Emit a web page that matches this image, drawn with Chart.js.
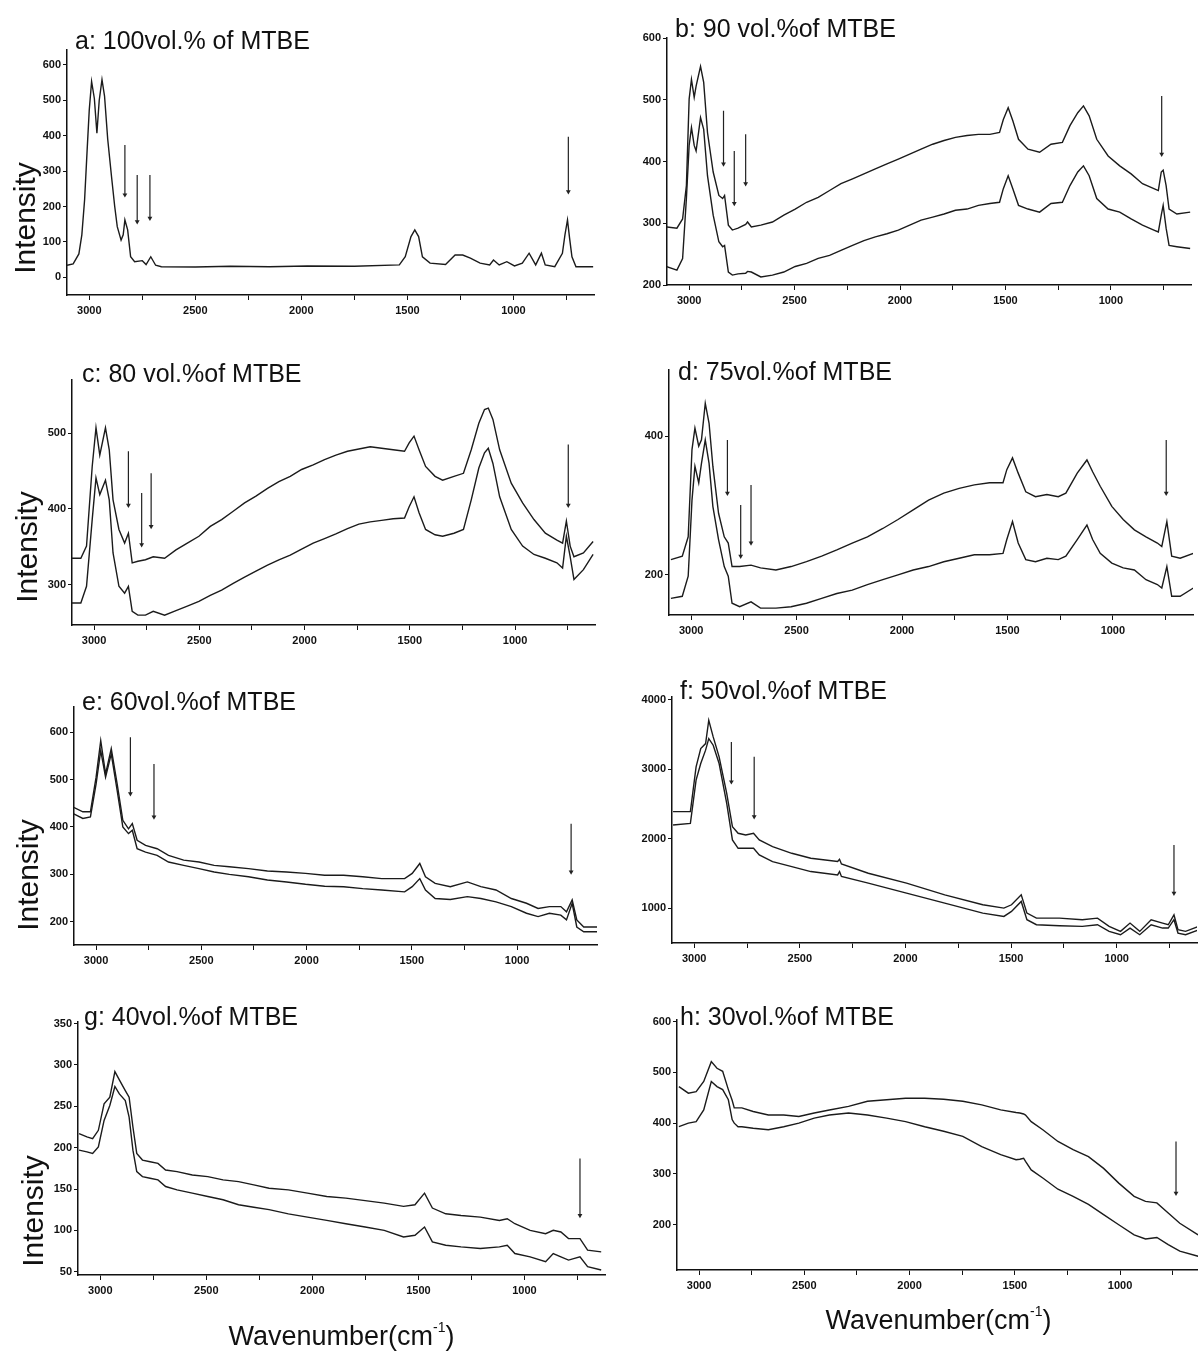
<!DOCTYPE html>
<html>
<head>
<meta charset="utf-8">
<title>Raman spectra of MTBE mixtures</title>
<script src="https://cdn.jsdelivr.net/npm/chart.js@4.4.1/dist/chart.umd.min.js"></script>
<style>
  html, body { margin: 0; padding: 0; background: #fff; }
  #fig { position: relative; width: 1198px; height: 1354px; overflow: hidden; background: #fff; }
  #fig canvas { position: absolute; }
</style>
</head>
<body>
<div id="fig"></div>
<script>
// ---- data ----
const xTicks = [3000, 2750, 2500, 2250, 2000, 1750, 1500, 1250, 1000, 750];
const xTickLabels = ['3000', '', '2500', '', '2000', '', '1500', '', '1000', ''];
const xRange = [620, 3105];

const panelTitles = [
  'a: 100vol.% of MTBE', 'b: 90 vol.%of MTBE', 'c: 80 vol.%of MTBE', 'd: 75vol.%of MTBE',
  'e: 60vol.%of MTBE', 'f: 50vol.%of MTBE', 'g: 40vol.%of MTBE', 'h: 30vol.%of MTBE'
];

// a: 100 vol.%
const aWn = [3105, 3076, 3049, 3035, 3022, 3010, 3000, 2989, 2976, 2964, 2953, 2940, 2928, 2913, 2895, 2880, 2868, 2850, 2840, 2832, 2819, 2805, 2786, 2750, 2732, 2710, 2687, 2660, 2500, 2334, 2150, 1972, 1750, 1538, 1510, 1483, 1465, 1447, 1429, 1393, 1320, 1275, 1239, 1203, 1157, 1112, 1094, 1067, 1031, 995, 958, 926, 895, 868, 850, 805, 769, 757, 745, 735, 724, 705, 624];
const aInt = [34, 38, 66, 120, 219, 360, 473, 553, 505, 407, 500, 558, 512, 390, 284, 200, 143, 105, 120, 162, 134, 58, 44, 47, 36, 58, 34, 30, 29, 31, 30, 32, 31, 35, 58, 115, 134, 115, 58, 40, 36, 63, 63, 54, 40, 35, 49, 35, 44, 32, 40, 68, 35, 68, 35, 30, 68, 120, 162, 110, 58, 30, 30];
const aYTicks = [0, 100, 200, 300, 400, 500, 600];
const aYRange = [-50, 642];
const aArrows = [[2832, 374, 233], [2774, 289, 157], [2714, 289, 167], [741, 397, 242]];

// b: 90 vol.%
const bWn = [3109, 3058, 3031, 3013, 3000, 2989, 2976, 2967, 2946, 2931, 2913, 2886, 2859, 2841, 2832, 2814, 2795, 2768, 2732, 2723, 2705, 2660, 2605, 2551, 2497, 2443, 2388, 2334, 2280, 2225, 2171, 2117, 2062, 2008, 1954, 1900, 1845, 1791, 1737, 1682, 1628, 1574, 1528, 1510, 1487, 1465, 1438, 1393, 1338, 1284, 1230, 1194, 1157, 1130, 1103, 1067, 1013, 958, 904, 850, 796, 775, 761, 752, 738, 724, 687, 624];
const bUpper = [294, 292, 307, 361, 501, 533, 504, 522, 554, 528, 447, 383, 345, 340, 345, 297, 289, 292, 298, 302, 294, 297, 302, 313, 323, 334, 342, 353, 364, 372, 380, 388, 396, 404, 412, 420, 428, 434, 439, 442, 444, 444, 447, 468, 487, 466, 436, 420, 415, 428, 431, 458, 479, 490, 474, 436, 409, 393, 380, 364, 356, 353, 383, 386, 361, 323, 315, 318];
const bLower = [230, 224, 243, 340, 426, 455, 426, 417, 471, 452, 377, 313, 270, 262, 264, 221, 216, 218, 219, 222, 221, 213, 216, 221, 230, 235, 243, 248, 256, 264, 272, 278, 283, 289, 297, 305, 310, 315, 321, 323, 329, 332, 334, 356, 377, 356, 329, 323, 318, 332, 334, 361, 383, 393, 377, 340, 323, 318, 307, 297, 289, 286, 313, 329, 292, 264, 262, 259];
const bYTicks = [200, 300, 400, 500, 600];
const bYRange = [200, 600];
const bArrows = [[2837, 482, 396], [2786, 417, 332], [2732, 444, 364], [759, 506, 412]];

// c: 80 vol.%
const cWn = [3109, 3063, 3036, 3009, 2991, 2973, 2946, 2928, 2910, 2882, 2855, 2837, 2819, 2792, 2756, 2719, 2665, 2611, 2557, 2502, 2448, 2394, 2339, 2285, 2231, 2176, 2122, 2068, 2014, 1959, 1905, 1851, 1796, 1742, 1688, 1634, 1579, 1525, 1503, 1480, 1456, 1425, 1380, 1344, 1290, 1245, 1208, 1172, 1145, 1127, 1105, 1073, 1018, 964, 910, 856, 801, 774, 756, 738, 720, 675, 629];
const cUpper = [335, 335, 351, 456, 507, 471, 507, 478, 412, 373, 355, 368, 329, 331, 333, 337, 335, 346, 355, 364, 377, 386, 397, 408, 417, 427, 436, 443, 452, 458, 465, 471, 476, 479, 482, 480, 478, 476, 487, 496, 478, 456, 443, 438, 443, 447, 478, 513, 531, 533, 518, 478, 434, 408, 386, 368, 359, 355, 384, 351, 337, 342, 357];
const cLower = [276, 276, 298, 386, 441, 419, 438, 412, 342, 298, 289, 298, 265, 260, 260, 265, 260, 266, 272, 278, 286, 293, 302, 310, 318, 326, 333, 339, 347, 355, 361, 367, 374, 380, 383, 385, 387, 388, 403, 416, 395, 373, 366, 364, 368, 373, 412, 454, 474, 480, 460, 416, 373, 351, 340, 335, 329, 322, 364, 337, 307, 320, 340];
const cYTicks = [300, 400, 500];
const cYRange = [247, 570];
const cArrows = [[2837, 476, 405], [2774, 421, 353], [2729, 447, 377], [747, 485, 405]];

// d: 75 vol.%
const dWn = [3096, 3042, 3014, 2996, 2982, 2964, 2951, 2933, 2915, 2897, 2870, 2843, 2824, 2806, 2770, 2716, 2671, 2598, 2526, 2453, 2381, 2309, 2236, 2164, 2091, 2019, 1947, 1874, 1802, 1729, 1657, 1585, 1521, 1503, 1476, 1449, 1413, 1367, 1313, 1259, 1223, 1169, 1123, 1096, 1060, 1005, 951, 898, 843, 789, 768, 744, 721, 681, 618];
const dUpper = [222, 227, 255, 381, 412, 386, 395, 448, 419, 357, 289, 255, 246, 212, 212, 214, 210, 207, 212, 219, 227, 236, 246, 255, 267, 280, 294, 308, 318, 325, 330, 333, 333, 352, 369, 347, 320, 313, 316, 313, 318, 347, 366, 349, 328, 299, 280, 265, 255, 246, 241, 277, 227, 224, 231];
const dLower = [166, 169, 198, 308, 357, 333, 361, 395, 361, 299, 251, 212, 198, 159, 154, 161, 152, 152, 154, 159, 166, 173, 178, 186, 193, 200, 207, 212, 219, 224, 229, 229, 231, 251, 277, 246, 222, 219, 224, 222, 227, 251, 272, 251, 231, 217, 210, 207, 193, 186, 181, 212, 169, 169, 181];
const dYTicks = [200, 400];
const dYRange = [142, 496];
const dArrows = [[2828, 395, 318], [2765, 301, 227], [2716, 330, 246], [747, 395, 318]];

// e: 60 vol.%
const eWn = [3109, 3063, 3027, 3000, 2978, 2955, 2928, 2900, 2873, 2846, 2828, 2805, 2765, 2710, 2656, 2584, 2511, 2439, 2367, 2276, 2186, 2095, 2005, 1914, 1824, 1733, 1643, 1534, 1498, 1462, 1435, 1389, 1317, 1236, 1172, 1100, 1027, 955, 900, 846, 792, 765, 738, 716, 683, 620];
const eUpper = [442, 432, 432, 505, 582, 512, 565, 491, 414, 396, 407, 372, 361, 354, 340, 330, 326, 319, 316, 312, 307, 305, 302, 298, 298, 295, 291, 291, 302, 323, 295, 281, 274, 284, 274, 267, 249, 239, 228, 232, 232, 221, 246, 204, 189, 189];
const eLower = [428, 418, 421, 491, 561, 505, 554, 477, 400, 386, 393, 354, 347, 340, 326, 319, 312, 305, 300, 295, 288, 284, 279, 275, 274, 270, 267, 263, 274, 291, 267, 249, 247, 253, 249, 242, 232, 218, 211, 218, 214, 204, 239, 189, 179, 179];
const eYTicks = [200, 300, 400, 500, 600];
const eYRange = [151, 653];
const eArrows = [[2837, 589, 470], [2725, 533, 421], [743, 407, 305]];

// f: 50 vol.%
const fWn = [3100, 3018, 2991, 2969, 2946, 2931, 2910, 2882, 2846, 2819, 2792, 2756, 2719, 2692, 2629, 2538, 2448, 2321, 2312, 2303, 2176, 1995, 1814, 1634, 1534, 1498, 1452, 1425, 1380, 1271, 1163, 1091, 1036, 982, 937, 891, 837, 783, 756, 729, 710, 674, 611];
const fUpper = [2388, 2388, 3033, 3297, 3368, 3703, 3464, 3177, 2651, 2172, 2077, 2053, 2077, 1981, 1885, 1789, 1718, 1670, 1703, 1636, 1502, 1359, 1191, 1048, 1000, 1048, 1191, 928, 856, 856, 833, 856, 737, 665, 785, 665, 833, 785, 761, 904, 689, 665, 737];
const fLower = [2196, 2220, 2842, 3081, 3273, 3440, 3344, 3081, 2507, 1981, 1861, 1861, 1861, 1766, 1670, 1598, 1526, 1478, 1526, 1455, 1359, 1215, 1072, 928, 880, 952, 1096, 833, 761, 746, 737, 761, 665, 617, 713, 617, 761, 713, 713, 833, 641, 617, 689];
const fYTicks = [1000, 2000, 3000, 4000];
const fYRange = [498, 4038];
const fArrows = [[2824, 3392, 2818], [2716, 3177, 2316], [729, 1909, 1215]];

// g: 40 vol.%
const gWn = [3100, 3063, 3036, 3009, 2982, 2955, 2931, 2910, 2882, 2864, 2846, 2828, 2801, 2765, 2728, 2692, 2638, 2566, 2493, 2421, 2348, 2276, 2204, 2113, 2023, 1932, 1842, 1751, 1661, 1570, 1516, 1471, 1434, 1371, 1299, 1208, 1118, 1081, 1045, 973, 900, 864, 828, 792, 738, 702, 638];
const gUpper = [217, 213, 211, 221, 253, 261, 292, 282, 269, 261, 225, 193, 185, 183, 181, 173, 171, 167, 165, 161, 159, 155, 151, 149, 145, 141, 139, 136, 133, 129, 131, 145, 127, 120, 118, 116, 112, 114, 108, 100, 96, 100, 98, 90, 90, 76, 74];
const gLower = [197, 195, 193, 201, 233, 251, 274, 265, 257, 237, 197, 171, 165, 163, 161, 153, 149, 145, 141, 137, 131, 128, 125, 120, 116, 112, 108, 104, 100, 92, 94, 104, 86, 82, 80, 78, 80, 82, 72, 68, 62, 72, 68, 64, 68, 56, 52];
const gYTicks = [50, 100, 150, 200, 250, 300, 350];
const gYRange = [46, 352];
const gArrows = [[738, 187, 118]];

// h: 30 vol.%
const hWn = [3096, 3051, 3014, 2978, 2942, 2915, 2888, 2861, 2843, 2833, 2815, 2797, 2743, 2671, 2598, 2526, 2453, 2381, 2290, 2200, 2109, 2019, 1928, 1838, 1747, 1657, 1567, 1494, 1476, 1458, 1449, 1422, 1367, 1295, 1223, 1150, 1078, 1006, 933, 879, 825, 771, 716, 629];
const hUpper = [472, 459, 462, 482, 521, 508, 502, 466, 445, 430, 430, 430, 423, 416, 416, 413, 420, 426, 433, 443, 446, 449, 449, 447, 443, 436, 426, 421, 420, 418, 416, 403, 387, 364, 348, 334, 311, 282, 256, 246, 243, 223, 203, 180];
const hLower = [393, 400, 403, 426, 482, 472, 466, 446, 407, 400, 393, 393, 390, 387, 393, 400, 410, 416, 420, 416, 410, 403, 393, 384, 374, 354, 338, 328, 329, 331, 325, 308, 292, 270, 256, 240, 220, 200, 180, 172, 175, 161, 148, 138];
const hYTicks = [200, 300, 400, 500, 600];
const hYRange = [111, 603];
const hArrows = [[734, 364, 262]];

// ---- layout (page pixels of each plot box: left, top, right, bottom) ----
const boxes = [
  [67, 50, 594, 295], [667, 38, 1191, 285],
  [72, 380, 595, 625], [669, 370, 1193, 615],
  [74, 707, 597, 945], [672, 697, 1197, 943],
  [78, 1022, 605, 1275], [677, 1020, 1200, 1270]
];
const titleOffsets = [[8, -8], [8, -8], [10, -5], [9, 3], [8, -4], [8, -5], [6, -4], [3, -2]];
const intensityOffsets = [[-40, -77], null, [-43, -78], null, [-44, -70], null, [-43, -64], null];
const waveOffsets = [null, null, null, null, null, null, 63, 52];

const FONT = '"Liberation Sans", Arial, sans-serif';
const tickFont = { family: '"Liberation Sans Narrow", "Liberation Sans", Arial, sans-serif', size: 11, weight: 'bold' };

// titles, "Intensity" and "Wavenumber(cm-1)" drawn on the canvas
const panelText = {
  id: 'panelText',
  afterDraw(chart, args, o) {
    const ctx = chart.ctx, a = chart.chartArea;
    ctx.save();
    ctx.fillStyle = '#111';
    ctx.textBaseline = 'middle';
    ctx.textAlign = 'left';
    ctx.font = '25px ' + FONT;
    ctx.fillText(o.title, a.left + o.tOff[0], a.top + o.tOff[1]);

    if (o.iOff) {
      ctx.save();
      ctx.translate(a.left + o.iOff[0], a.bottom + o.iOff[1]);
      ctx.rotate(-Math.PI / 2);
      ctx.textAlign = 'center';
      ctx.font = '30px ' + FONT;
      ctx.fillText('Intensity', 0, 0);
      ctx.restore();
    }

    if (o.wOff) {
      const main = 'Wavenumber(cm', sup = '-1', tail = ')';
      ctx.font = '27px ' + FONT;
      const wm = ctx.measureText(main).width, wt = ctx.measureText(tail).width;
      ctx.font = '14px ' + FONT;
      const ws = ctx.measureText(sup).width;
      let x = (a.left + a.right) / 2 - (wm + ws + wt) / 2;
      const y = a.bottom + o.wOff;
      ctx.font = '27px ' + FONT;
      ctx.fillText(main, x, y); x += wm;
      ctx.font = '14px ' + FONT;
      ctx.fillText(sup, x, y - 10); x += ws;
      ctx.font = '27px ' + FONT;
      ctx.fillText(tail, x, y);
    }
    ctx.restore();
  }
};

const panels = [
  { wn: aWn, series: [aInt], yTicks: aYTicks, yRange: aYRange, arrows: aArrows },
  { wn: bWn, series: [bUpper, bLower], yTicks: bYTicks, yRange: bYRange, arrows: bArrows },
  { wn: cWn, series: [cUpper, cLower], yTicks: cYTicks, yRange: cYRange, arrows: cArrows },
  { wn: dWn, series: [dUpper, dLower], yTicks: dYTicks, yRange: dYRange, arrows: dArrows },
  { wn: eWn, series: [eUpper, eLower], yTicks: eYTicks, yRange: eYRange, arrows: eArrows },
  { wn: fWn, series: [fUpper, fLower], yTicks: fYTicks, yRange: fYRange, arrows: fArrows },
  { wn: gWn, series: [gUpper, gLower], yTicks: gYTicks, yRange: gYRange, arrows: gArrows },
  { wn: hWn, series: [hUpper, hLower], yTicks: hYTicks, yRange: hYRange, arrows: hArrows }
];

function makePanel(p, i) {
  const L = 62, T = 36, R = 6;
  const B = waveOffsets[i] ? 84 : 30;
  const [x0, y0, x1, y1] = boxes[i];
  const canvas = document.createElement('canvas');
  canvas.width = x1 - x0 + L + R;
  canvas.height = y1 - y0 + T + B;
  canvas.style.left = (x0 - L) + 'px';
  canvas.style.top = (y0 - T) + 'px';
  document.getElementById('fig').appendChild(canvas);

  const datasets = p.series.map(vals => ({
    data: p.wn.map((w, k) => ({ x: w, y: vals[k] })),
    borderColor: '#1b1b1b', borderWidth: 1.4, pointRadius: 0, tension: 0
  }));
  // marker arrows
  p.arrows.forEach(([w, top, bottom]) => datasets.push({
    data: [{ x: w, y: top }, { x: w, y: bottom }],
    borderColor: '#222', borderWidth: 1.2,
    pointRadius: [0, 2.8], pointStyle: 'triangle', pointRotation: 180,
    pointBackgroundColor: '#222', pointBorderWidth: 0
  }));

  const axisGrid = { drawOnChartArea: false, tickLength: 4, color: '#111' };
  const axisBorder = { color: '#111', width: 1.5 };

  new Chart(canvas, {
    type: 'line',
    data: { datasets },
    options: {
      responsive: false,
      animation: false,
      events: [],
      layout: { padding: { left: 0, top: T, right: R, bottom: 0 } },
      plugins: {
        legend: { display: false },
        tooltip: { enabled: false },
        panelText: { title: panelTitles[i], tOff: titleOffsets[i], iOff: intensityOffsets[i], wOff: waveOffsets[i] }
      },
      scales: {
        x: {
          type: 'linear', reverse: true, min: xRange[0], max: xRange[1],
          afterFit: s => { s.height = B; },
          afterBuildTicks: s => { s.ticks = xTicks.map(v => ({ value: v })); },
          ticks: { autoSkip: false, maxRotation: 0, padding: 4, color: '#111', font: tickFont,
                   callback: v => xTickLabels[xTicks.indexOf(v)] || '' },
          grid: Object.assign({}, axisGrid, { tickLength: 5 }),
          border: axisBorder
        },
        y: {
          type: 'linear', min: p.yRange[0], max: p.yRange[1],
          afterFit: s => { s.width = L; },
          afterBuildTicks: s => { s.ticks = p.yTicks.map(v => ({ value: v })); },
          ticks: { autoSkip: false, padding: 2, color: '#111', font: tickFont, callback: v => String(v) },
          grid: axisGrid,
          border: axisBorder
        }
      }
    },
    plugins: [panelText]
  });
}

document.addEventListener('DOMContentLoaded', function () {
  panels.forEach(makePanel);
});
</script>
</body>
</html>
